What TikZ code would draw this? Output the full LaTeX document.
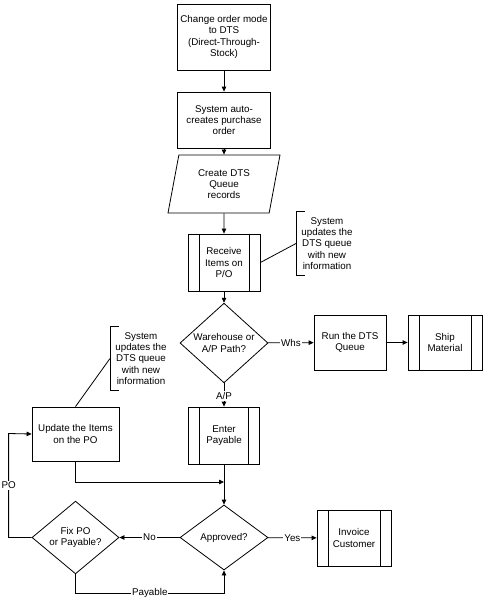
\documentclass[tikz,border=0pt]{standalone}
\usepackage{fontspec}
\setmainfont{Liberation Sans}
\usetikzlibrary{shapes.geometric,arrows.meta}
\begin{document}
\begin{tikzpicture}[x=1pt,y=-1pt,line width=0.8pt,
    font=\fontsize{9.8}{11.3}\selectfont,
    >={Triangle[length=5pt,width=4.5pt]},
    box/.style={draw,rectangle,align=center,inner sep=1pt},
    subproc/.style={box,path picture={
        \draw ([xshift=11pt]path picture bounding box.north west) -- ([xshift=11pt]path picture bounding box.south west);
        \draw ([xshift=-11pt]path picture bounding box.north east) -- ([xshift=-11pt]path picture bounding box.south east);}},
    decision/.style={draw,diamond,align=center,inner sep=0pt},
    datain/.style={draw,trapezium,trapezium left angle=71,trapezium right angle=109,
        trapezium stretches body,align=center,inner sep=1pt},
    note/.style={align=center,anchor=west,inner xsep=5pt,minimum height=63pt},
    lbl/.style={fill=white,inner sep=1pt}]
\useasboundingbox (0,0) rectangle (487,602);
\node[box,minimum width=93pt,minimum height=66pt] (chg) at (224,37) {Change order mode\\to DTS\\(Direct-Through-\\Stock)};
\node[box,minimum width=93pt,minimum height=56pt] (auto) at (224,120) {System auto-\\creates purchase\\order};
\node[datain,minimum width=112pt,minimum height=58pt] (queue) at (224,184) {Create DTS\\Queue\\records};
\node[subproc,minimum width=72pt,minimum height=57pt] (recv) at (224,262.5) {Receive\\Items on\\P/O};
\node[note] (note1) at (296,243.5) {System\\updates the\\DTS queue\\with new\\information};
\node[decision,minimum width=88pt,minimum height=66pt] (whp) at (224,343) {Warehouse or\\A/P Path?};
\node[box,minimum width=72pt,minimum height=55pt] (run) at (350,342.5) {Run the DTS\\Queue};
\node[subproc,minimum width=74pt,minimum height=55pt] (ship) at (445,342.5) {Ship\\Material};
\node[note] (note2) at (110,358.5) {System\\updates the\\DTS queue\\with new\\information};
\node[subproc,minimum width=71pt,minimum height=57pt] (pay) at (224,435.5) {Enter\\Payable};
\node[box,minimum width=87pt,minimum height=54pt] (upd) at (75.5,434) {Update the Items\\on the PO};
\coordinate (join) at (224,482);
\node[decision,minimum width=88pt,minimum height=65pt] (appr) at (224,537.5) {Approved?};
\node[subproc,minimum width=74pt,minimum height=56pt] (inv) at (354,538) {Invoice\\Customer};
\node[decision,minimum width=87pt,minimum height=65pt] (fix) at (75.5,537.5) {Fix PO\\or Payable?};
\foreach \n in {note1,note2}
    \draw ([xshift=9pt]\n.north west) -- (\n.north west) -- (\n.south west) -- ([xshift=9pt]\n.south west);
\draw[->] (chg) -- (auto);
\draw[->] (auto) -- (queue);
\draw[->] (queue) -- (recv);
\draw (recv.east) -- (note1.west);
\draw[->] (recv) -- (whp);
\draw[->] (whp) -- node[lbl] {Whs} (run);
\draw[->] (run) -- (ship);
\draw[->] (whp) -- node[lbl,pos=0.55] {A/P} (pay);
\draw (upd.north) -- (note2.west);
\draw[->] (upd.south) |- (join);
\draw[->] (pay) -- (appr);
\draw[->] (appr) -- node[lbl] {Yes} (inv);
\draw[->] (appr) -- node[lbl] {No} (fix);
\draw[->] (fix.west) -- ++(-23,0) -- node[lbl,pos=0.5] {PO} ++(0,-104) -- (upd.west);
\draw[->] (fix.south) |- node[lbl,pos=0.75] {Payable} (224,593) -- (appr.south);
\end{tikzpicture}
\end{document}
